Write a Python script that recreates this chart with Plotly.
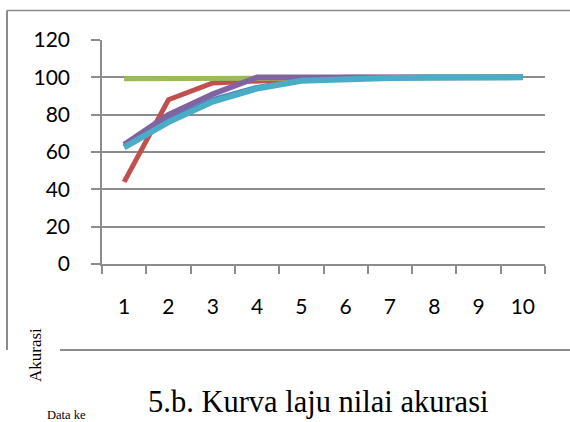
import plotly.graph_objects as go

# Data points (x = "Data ke", y = accuracy %)
data_ke = ["1", "2", "3", "4", "5", "6", "7", "8", "9", "10"]
seri_1 = [63, 77, 88, 94.5, 98.5, 99.5, 99.7, 100, 100, 100]
seri_2 = [44, 88, 97, 98, 99.5, 100, 100, 100, 100, 100]
seri_3 = [99.3, 99.4, 99.6, 99.8, 100, 100, 100, 100, 100, 100]
seri_4 = [64, 80, 91, 100, 100, 100, 100, 100, 100, 100]
seri_5 = [62.5, 76, 87, 94, 98.2, 99.3, 99.6, 100, 100, 100]
y_ticks = [0, 20, 40, 60, 80, 100, 120]

series = [
    (seri_1, "#4F81BD", 5.5),
    (seri_2, "#C0504D", 5),
    (seri_3, "#9BBB59", 5),
    (seri_4, "#8064A2", 5.5),
    (seri_5, "#4BACC6", 6),
]

fig = go.Figure()
for vals, color, w in series:
    fig.add_trace(go.Scatter(
        x=data_ke, y=vals, mode="lines",
        line=dict(color=color, width=w),
        showlegend=False, hoverinfo="skip",
    ))

W, H = 570, 422
L, R, T, B = 102, 25, 40, 158
pw, ph = W - L - R, H - T - B


def px(x):
    return (x - L) / pw


def py(y):
    return (H - B - y) / ph


frame = "#8C8C8C"
shapes = [
    dict(type="line", xref="paper", yref="paper", x0=px(7), x1=px(570), y0=py(10.5), y1=py(10.5),
         line=dict(color=frame, width=1.5)),
    dict(type="line", xref="paper", yref="paper", x0=px(7), x1=px(7), y0=py(10.5), y1=py(350),
         line=dict(color=frame, width=2)),
    dict(type="line", xref="paper", yref="paper", x0=px(60), x1=px(570), y0=py(350), y1=py(350),
         line=dict(color=frame, width=2)),
]

annotations = [
    dict(text="Akurasi", xref="paper", yref="paper", x=px(35), y=py(355),
         showarrow=False, textangle=-90, xanchor="center", yanchor="middle",
         font=dict(family="Liberation Serif", size=17, color="black")),
    dict(text="Data ke", xref="paper", yref="paper", x=px(45), y=py(415),
         showarrow=False, xanchor="left", yanchor="middle",
         font=dict(family="Liberation Serif", size=12.5, color="black")),
    dict(text="5.b. Kurva laju nilai akurasi", xref="paper", yref="paper", x=px(146), y=py(402),
         showarrow=False, xanchor="left", yanchor="middle",
         font=dict(family="Liberation Serif", size=30.5, color="black")),
]

fig.update_layout(
    width=W, height=H, autosize=False,
    margin=dict(l=L, r=R, t=T, b=B),
    paper_bgcolor="white", plot_bgcolor="white",
    shapes=shapes, annotations=annotations,
    xaxis=dict(
        type="category", range=[-0.5, 9.5], tickson="boundaries",
        ticks="outside", ticklen=8, tickcolor=frame, tickwidth=1.5,
        showline=True, linecolor=frame, linewidth=1.5,
        showgrid=False, zeroline=False,
        tickfont=dict(family="Lato", size=21, color="black"),
        ticklabelstandoff=23,
    ),
    yaxis=dict(
        range=[0, 120], tickvals=y_ticks,
        ticks="outside", ticklen=9, tickcolor=frame, tickwidth=1.5,
        showline=True, linecolor=frame, linewidth=1.5,
        showgrid=True, gridcolor=frame, gridwidth=1.5, zeroline=False,
        tickfont=dict(family="Lato", size=21, color="black"),
        ticklabelstandoff=17,
    ),
)

fig.write_html("out.html")
